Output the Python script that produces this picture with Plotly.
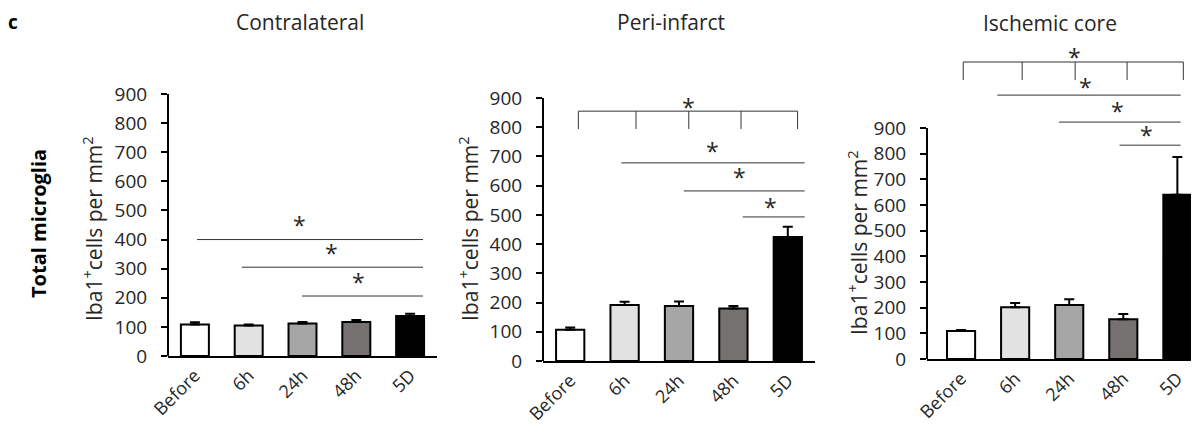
import plotly.graph_objects as go

categories = ["Before", "6h", "24h", "48h", "5D"]
bar_colors = ["#ffffff", "#e2e2e2", "#a6a6a6", "#767171", "#000000"]

contra_mean = [108, 105, 112, 117, 137]
contra_err = [8, 3, 5, 7, 8]
peri_mean = [107, 192, 188, 180, 424]
peri_err = [8, 11, 16, 8, 35]
core_mean = [109, 202, 210, 155, 640]
core_err = [4, 16, 23, 20, 147]

# significance lines: (from category index, to category index, y value)
contra_lines = [(0.04, 4.24, 400), (0.87, 4.24, 305), (1.99, 4.24, 206)]
contra_stars = [(1.95, 467), (2.54, 371), (3.04, 271)]
peri_lines = [(0.94, 4.31, 678), (2.09, 4.31, 582), (3.17, 4.31, 493)]
peri_stars = [(2.61, 736), (3.12, 647), (3.69, 544)]
core_lines = [(0.67, 4.06, 1028), (1.81, 4.06, 923), (2.93, 4.06, 833)]
core_stars = [(2.30, 1079), (2.89, 986), (3.43, 892)]

# brackets: tick x positions, top y, bottom y, star (x, y)
peri_bracket = dict(ticks=[0.15, 1.21, 2.18, 3.14, 4.18], top=855, bottom=794, star=(2.18, 886))
core_bracket = dict(ticks=[0.04, 1.13, 2.11, 3.07, 4.11], top=1157, bottom=1087, star=(2.09, 1196))

titles = ["Contralateral", "Peri-infarct", "Ischemic core"]
ytitle = "Iba1<sup>+</sup>cells per mm<sup>2</sup>"

FONT = "Open Sans"
TXT = "#262626"
W, H = 1199, 433
OFF = 8  # page body margin


def px(x):
    return (x - OFF) / W


def py(y):
    return 1 - (y - OFF) / H


panels = [
    dict(mean=contra_mean, err=contra_err, lines=contra_lines, stars=contra_stars, bracket=None,
         xdom=(168, 437), ydom=(356, 94), xr=[-0.5, 4.5], yr=[0, 900], title_xy=(300, 22), ytitle_xy=(92, 228)),
    dict(mean=peri_mean, err=peri_err, lines=peri_lines, stars=peri_stars, bracket=peri_bracket,
         xdom=(543, 815), ydom=(361, 98), xr=[-0.5, 4.5], yr=[0, 900], title_xy=(671, 22), ytitle_xy=(468, 229)),
    dict(mean=core_mean, err=core_err, lines=core_lines, stars=core_stars, bracket=core_bracket,
         xdom=(927, 1199), ydom=(359, 25.3), xr=[-0.63, 4.4], yr=[0, 1300], title_xy=(1050, 23), ytitle_xy=(857, 243)),
]

fig = go.Figure()
layout = {}
shapes = []
annotations = []

for i, p in enumerate(panels, start=1):
    sfx = "" if i == 1 else str(i)
    xa, ya = "x" + sfx, "y" + sfx
    fig.add_trace(go.Bar(
        x=categories, y=p["mean"], xaxis=xa, yaxis=ya, width=0.52,
        marker=dict(color=bar_colors, line=dict(color="black", width=2)),
        error_y=dict(type="data", array=p["err"], arrayminus=[0] * 5, symmetric=False,
                     color="black", thickness=2, width=5),
        showlegend=False,
    ))
    layout["xaxis" + sfx] = dict(
        domain=[px(p["xdom"][0]), px(p["xdom"][1])], anchor=ya, range=p["xr"], automargin=False,
        showline=True, linecolor="black", linewidth=2, ticks="", tickangle=-45,
        tickfont=dict(family=FONT, size=18, color=TXT), showgrid=False, zeroline=False,
    )
    layout["yaxis" + sfx] = dict(
        domain=[py(p["ydom"][0]), py(p["ydom"][1])], anchor=xa, range=p["yr"], automargin=False,
        tickvals=list(range(0, 1000, 100)), showline=False, ticks="outside", ticklen=6,
        tickcolor="black", tickwidth=1.5, ticklabelstandoff=10,
        tickfont=dict(family=FONT, size=19, color=TXT), showgrid=False, zeroline=False,
    )
    # y axis line up to 900
    shapes.append(dict(type="line", xref=xa + " domain", yref=ya, x0=0, x1=0, y0=0, y1=900,
                       line=dict(color="black", width=2)))
    for x0, x1, y in p["lines"]:
        shapes.append(dict(type="line", xref=xa, yref=ya, x0=x0, x1=x1, y0=y, y1=y,
                           line=dict(color="#333333", width=1)))
    stars = list(p["stars"])
    b = p["bracket"]
    if b:
        shapes.append(dict(type="line", xref=xa, yref=ya, x0=b["ticks"][0], x1=b["ticks"][-1],
                           y0=b["top"], y1=b["top"], line=dict(color="#333333", width=1)))
        for tx in b["ticks"]:
            shapes.append(dict(type="line", xref=xa, yref=ya, x0=tx, x1=tx, y0=b["bottom"], y1=b["top"],
                               line=dict(color="#333333", width=1)))
        stars.append(b["star"])
    for sx, sy in stars:
        annotations.append(dict(x=sx, y=sy, xref=xa, yref=ya, text="*", showarrow=False,
                                xanchor="center", yanchor="middle", yshift=-5,
                                font=dict(family=FONT, size=23, color=TXT)))
    annotations.append(dict(x=px(p["title_xy"][0]), y=py(p["title_xy"][1]), xref="paper", yref="paper",
                            text=titles[i - 1], showarrow=False, xanchor="center", yanchor="middle",
                            font=dict(family=FONT, size=21, color=TXT)))
    annotations.append(dict(x=px(p["ytitle_xy"][0]), y=py(p["ytitle_xy"][1]), xref="paper", yref="paper",
                            text=ytitle, textangle=-90, showarrow=False, xanchor="center", yanchor="middle",
                            font=dict(family=FONT, size=21, color=TXT)))

annotations.append(dict(x=px(38), y=py(224), xref="paper", yref="paper", text="<b>Total microglia</b>",
                        textangle=-90, showarrow=False, xanchor="center", yanchor="middle",
                        font=dict(family=FONT, size=20, color="black")))
annotations.append(dict(x=px(13), y=py(22), xref="paper", yref="paper", text="<b>c</b>",
                        showarrow=False, xanchor="center", yanchor="middle",
                        font=dict(family=FONT, size=19, color="black")))

fig.update_layout(
    width=W, height=H, margin=dict(l=0, r=0, t=0, b=0),
    plot_bgcolor="white", paper_bgcolor="white",
    shapes=shapes, annotations=annotations, **layout,
)

fig.write_html("out.html")
